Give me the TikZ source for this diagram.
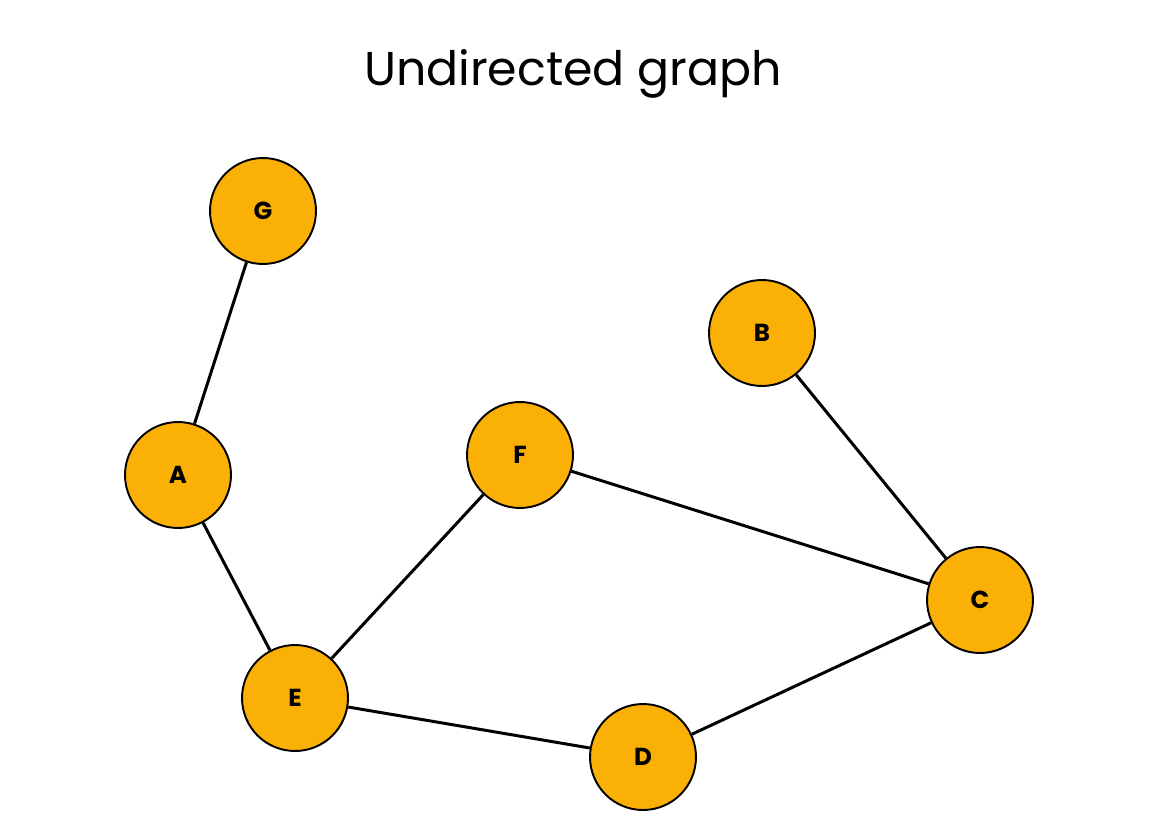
\documentclass[tikz,border=0pt]{standalone}
\usepackage{fontspec}
\setmainfont{Poppins}
\definecolor{nodeorange}{HTML}{FAB005}

\begin{document}
\begin{tikzpicture}[
    x=0.02cm, y=-0.02cm,
    vertex/.style={circle, draw=black, line width=1.1pt, fill=nodeorange, minimum size=2.12cm, inner sep=0pt},
    edge/.style={draw=black, line width=1.7pt},
    title/.style={font=\fontsize{27}{32}\selectfont},
    every node/.style={font=\fontsize{14}{16}\selectfont\bfseries}
  ]
  \useasboundingbox (0,0) rectangle (1159,838);

  % Title
  \node[title, font=\fontsize{27}{32}\selectfont\mdseries] (T) at (573,74) {Undirected graph};

  % Vertices
  \node[vertex] (G) at (263,211) {G};
  \node[vertex] (B) at (762,333) {B};
  \node[vertex] (A) at (178,475) {A};
  \node[vertex] (F) at (520,455) {F};
  \node[vertex] (C) at (980,600) {C};
  \node[vertex] (E) at (295,698) {E};
  \node[vertex] (D) at (643,757) {D};

  % Edges
  \foreach \u/\v in {G/A, A/E, E/F, E/D, D/C, F/C, B/C}
    \draw[edge] (\u) -- (\v);

\end{tikzpicture}
\end{document}
